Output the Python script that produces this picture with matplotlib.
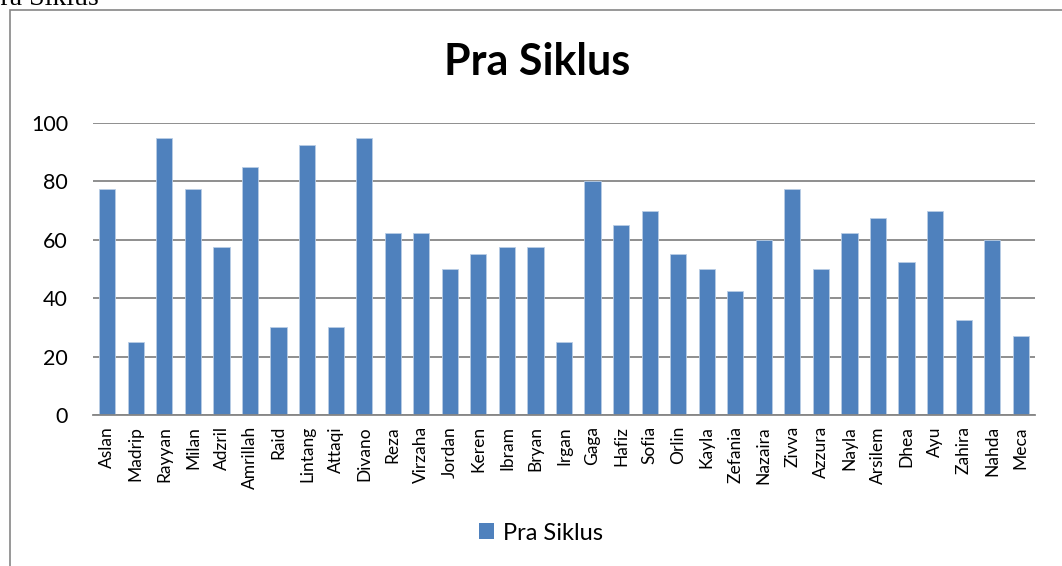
import matplotlib
matplotlib.use("Agg")
import matplotlib.pyplot as plt
from matplotlib.patches import Rectangle, Patch

names = ["Aslan", "Madrip", "Rayyan", "Milan", "Adzril", "Amrillah", "Raid", "Lintang",
         "Attaqi", "Divano", "Reza", "Virzaha", "Jordan", "Keren", "Ibram", "Bryan",
         "Irgan", "Gaga", "Hafiz", "Sofia", "Orlin", "Kayla", "Zefania", "Nazaira",
         "Zivva", "Azzura", "Nayla", "Arsilem", "Dhea", "Ayu", "Zahira", "Nahda", "Meca"]
values = [77.5, 25, 95, 77.5, 57.5, 85, 30, 92.5,
          30, 95, 62.5, 62.5, 50, 55, 57.5, 57.5,
          25, 80, 65, 70, 55, 50, 42.5, 60,
          77.5, 50, 62.5, 67.5, 52.5, 70, 32.5, 60, 27]
yticks = [0, 20, 40, 60, 80, 100]
series_name = "Pra Siklus"

W, H = 1062, 566
fig = plt.figure(figsize=(W / 100, H / 100), dpi=100)
font = "Lato"
grey = "#868686"
blue = "#4F81BD"

# cut-off document text at top-left
fig.text(-15 / W, 1 - 5 / H, series_name, family="Liberation Serif", fontsize=20,
         va="baseline", ha="left", color="black")

# chart border
fig.add_artist(Rectangle((10 / W, -0.05), 1.2, 1 - 10 / H + 0.05, transform=fig.transFigure,
                         fill=False, edgecolor=grey, linewidth=1.2))

ax = fig.add_axes([93 / W, 1 - 415 / H, (1035 - 93) / W, (415 - 123) / H])
x = range(len(names))
ax.bar(x, values, width=0.57, color=blue, edgecolor="#b9cde5", linewidth=0.6, zorder=3)
ax.set_xlim(-0.5, len(names) - 0.5)
ax.set_ylim(0, 100)
ax.set_yticks(yticks)
ax.set_yticklabels([str(t) for t in yticks], family=font, fontsize=15.5)
ax.set_xticks(list(x))
ax.set_xticklabels(names, rotation=90, family=font, fontsize=12.5)
ax.tick_params(axis="y", length=0, pad=18)
ax.tick_params(axis="x", length=0, pad=8)
ax.yaxis.grid(True, color=grey, linewidth=1.3, zorder=0)
for s in ["top", "right", "left"]:
    ax.spines[s].set_visible(False)
ax.spines["bottom"].set_color(grey)
ax.spines["bottom"].set_linewidth(1.3)
ax.spines["bottom"].set_zorder(4)

fig.text(537 / W, 1 - 62 / H, series_name, family=font, fontweight="bold", fontsize=31,
         ha="center", va="center")

fig.legend(handles=[Patch(facecolor=blue, label=series_name)], loc="center",
           bbox_to_anchor=(541 / W, 1 - 533 / H), frameon=False,
           prop={"family": font, "size": 17}, handlelength=0.65, handleheight=0.65,
           handletextpad=0.4)

fig.savefig("out.png", dpi=100)
